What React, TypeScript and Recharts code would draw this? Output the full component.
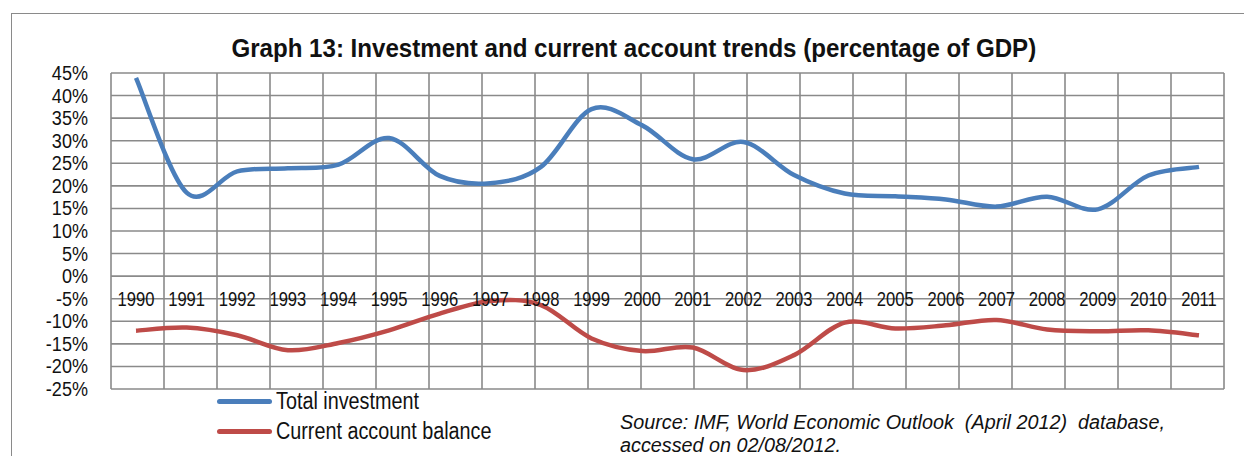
import { LineChart, Line, XAxis, YAxis, CartesianGrid, Legend } from "recharts";

const years = [
  "1990", "1991", "1992", "1993", "1994", "1995", "1996", "1997", "1998", "1999", "2000",
  "2001", "2002", "2003", "2004", "2005", "2006", "2007", "2008", "2009", "2010", "2011",
];
const totalInvestment = [
  43.9, 18.5, 23.2, 23.9, 24.7, 30.6, 22.2, 20.6, 24.2, 37.0, 33.4,
  25.9, 29.7, 22.4, 18.3, 17.7, 17.0, 15.4, 17.6, 14.8, 22.3, 24.2,
];
const currentAccount = [
  -12.1, -11.4, -13.1, -16.4, -14.8, -12.0, -8.3, -5.5, -6.4, -13.8, -16.6,
  -15.8, -20.8, -17.5, -10.3, -11.6, -10.9, -9.7, -11.8, -12.2, -12.0, -13.1,
];
const seriesNames = ["Total investment", "Current account balance"];
const yTicks = [-25, -20, -15, -10, -5, 0, 5, 10, 15, 20, 25, 30, 35, 40, 45];
const sourceLines = ["Source: IMF, World Economic Outlook  (April 2012)  database,", "accessed on 02/08/2012."];

const data = years.map((year, i) => ({
  year,
  invest: totalInvestment[i],
  balance: currentAccount[i],
}));
// category boundaries for the vertical grid
const boundaries = [...years.map((_, i) => i), years.length];

// no Arial Narrow here, so squeeze Liberation Sans horizontally
const FONT = "'Liberation Sans', Arial, sans-serif";
const GRID = "#8a8a8a";

// Excel-style smoothing (uniform Catmull-Rom as cubic bezier)
const excelSmooth = (context: any) => {
  let pts: number[][] = [];
  return {
    areaStart() {},
    areaEnd() {},
    lineStart() {
      pts = [];
    },
    point(x: number, y: number) {
      pts.push([+x, +y]);
    },
    lineEnd() {
      if (!pts.length) return;
      context.moveTo(pts[0][0], pts[0][1]);
      for (let i = 0; i < pts.length - 1; i++) {
        const p0 = pts[i - 1] || pts[i];
        const p1 = pts[i];
        const p2 = pts[i + 1];
        const p3 = pts[i + 2] || p2;
        context.bezierCurveTo(
          p1[0] + (p2[0] - p0[0]) / 6,
          p1[1] + (p2[1] - p0[1]) / 6,
          p2[0] - (p3[0] - p1[0]) / 6,
          p2[1] - (p3[1] - p1[1]) / 6,
          p2[0],
          p2[1]
        );
      }
    },
  };
};

const YearTick = ({ x, y, payload }: any) => (
  <text
    transform={`translate(${x},${y - 85}) scale(0.83,1)`}
    textAnchor="middle"
    fontSize={20}
    fill="#111"
    fontFamily={FONT}
  >
    {payload.value}
  </text>
);

const PctTick = ({ x, y, payload }: any) => (
  <text
    transform={`translate(${x},${y + 7}) scale(0.86,1)`}
    textAnchor="end"
    fontSize={21}
    fill="#111"
    fontFamily={FONT}
  >
    {`${payload.value}%`}
  </text>
);

const Narrow = ({ children, scale = 0.86, origin = "left" }: any) => (
  <span style={{ display: "inline-block", transform: `scaleX(${scale})`, transformOrigin: origin }}>{children}</span>
);

const LegendContent = ({ payload }: any) => {
  const items = [...(payload || [])].sort(
    (a: any, b: any) => seriesNames.indexOf(a.value) - seriesNames.indexOf(b.value)
  );
  return (
    <div style={{ fontFamily: FONT, fontSize: 23, color: "#111" }}>
      {items.map((p: any) => (
        <div key={p.value} style={{ display: "flex", alignItems: "center", height: 30 }}>
          <div style={{ width: 55, height: 5, borderRadius: 3, background: p.color, marginRight: 4, flex: "none" }} />
          <span style={{ whiteSpace: "nowrap" }}>
            <Narrow>{p.value}</Narrow>
          </span>
        </div>
      ))}
    </div>
  );
};

export default function App() {
  return (
    <div style={{ position: "absolute", left: 0, top: 0, width: 1244, height: 456, background: "#fff", overflow: "hidden" }}>
      <div
        style={{
          position: "absolute",
          left: 11,
          top: 13,
          width: 1300,
          height: 500,
          border: "1.5px solid #8a8a8a",
        }}
      />
      <div
        style={{
          position: "absolute",
          left: 0,
          width: 1268,
          top: 33,
          textAlign: "center",
          fontFamily: FONT,
          fontWeight: 700,
          fontSize: 25.5,
          lineHeight: "30px",
          color: "#111",
          whiteSpace: "nowrap",
        }}
      >
        <Narrow scale={0.945} origin="center">
          Graph 13: Investment and current account trends (percentage of GDP)
        </Narrow>
      </div>
      <LineChart
        width={1244}
        height={456}
        data={data}
        margin={{ top: 73, right: 20, bottom: 37, left: 11 }}
        style={{ position: "absolute", left: 0, top: 0 }}
      >
        <CartesianGrid xAxisId="grid" stroke={GRID} strokeWidth={1.6} horizontal vertical />
        <XAxis
          dataKey="year"
          padding={{ left: 25, right: 25 }}
          axisLine={false}
          tickLine={false}
          tickSize={0}
          interval={0}
          tick={<YearTick />}
        />
        <XAxis xAxisId="grid" type="number" domain={[0, years.length]} ticks={boundaries} hide />
        <YAxis
          domain={[-25, 45]}
          ticks={yTicks}
          width={100}
          interval={0}
          axisLine={false}
          tickLine={false}
          tickSize={0}
          tickMargin={23}
          tick={<PctTick />}
        />
        <Legend
          layout="horizontal"
          verticalAlign="middle"
          align="center"
          wrapperStyle={{ left: 217, top: 386, width: 320 }}
          content={<LegendContent />}
        />
        <Line
          dataKey="invest"
          name={seriesNames[0]}
          type={excelSmooth as any}
          stroke="#4a7ebb"
          strokeWidth={4.5}
          dot={false}
          isAnimationActive={false}
        />
        <Line
          dataKey="balance"
          name={seriesNames[1]}
          type={excelSmooth as any}
          stroke="#be4b48"
          strokeWidth={4.5}
          dot={false}
          isAnimationActive={false}
        />
      </LineChart>
      <div
        style={{
          position: "absolute",
          left: 620,
          top: 410,
          width: 600,
          fontFamily: FONT,
          fontStyle: "italic",
          fontSize: 20.5,
          lineHeight: "23px",
          color: "#111",
        }}
      >
        {sourceLines.map((line) => (
          <div key={line} style={{ whiteSpace: "pre", height: 23 }}>
            <Narrow scale={0.965}>{line}</Narrow>
          </div>
        ))}
      </div>
    </div>
  );
}
